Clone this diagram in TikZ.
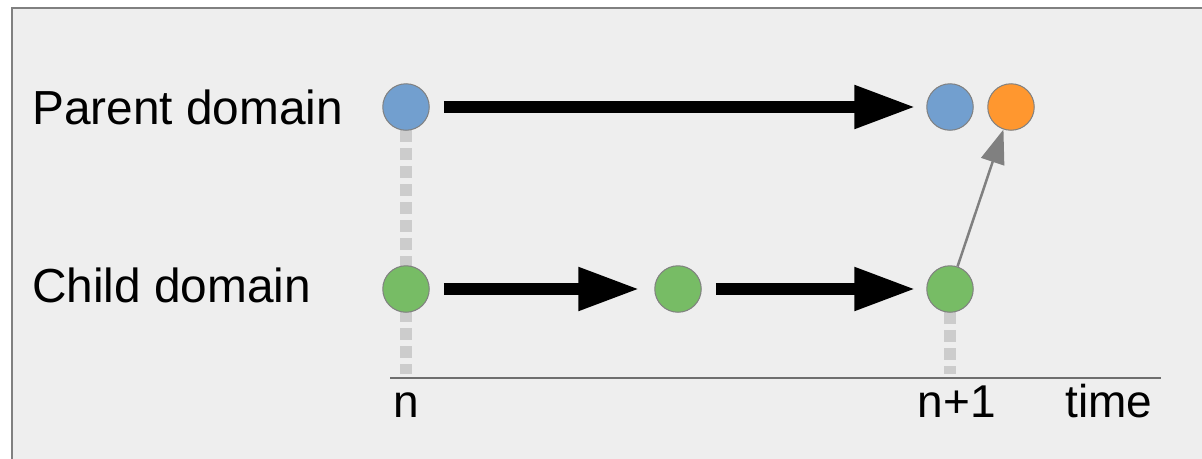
\documentclass[tikz,border=0pt]{standalone}
\usepackage{fontspec}
\setmainfont{Liberation Sans}
\usetikzlibrary{arrows.meta}
\definecolor{bg}{HTML}{EEEEEE}
\definecolor{frame}{HTML}{808080}
\definecolor{pblue}{HTML}{729FCF}
\definecolor{cgreen}{HTML}{77BC65}
\definecolor{porange}{HTML}{FF972F}
\definecolor{dotgray}{HTML}{CCCCCC}
\definecolor{axisgray}{HTML}{6E6E6E}
\tikzset{
  dot/.style={circle, minimum size=46.5pt, inner sep=0pt, draw=frame, line width=1pt},
  bigarrow/.style={line width=11.5pt, -{Triangle[length=61pt, width=41pt]}, shorten >=0pt},
  linkarrow/.style={draw=frame, line width=2.5pt, -{Triangle[length=34pt, width=24pt]}},
  guide/.style={draw=dotgray, line width=12pt, dash pattern=on 12pt off 6pt},
  lbl/.style={font=\fontsize{47.8pt}{52pt}\selectfont, inner sep=0pt, anchor=base west},
  tick/.style={font=\fontsize{46pt}{50pt}\selectfont, inner sep=0pt, anchor=base}
}
\begin{document}
\begin{tikzpicture}[x=1pt, y=-1pt]
\useasboundingbox (0,0) rectangle (1202,458);
\fill[white] (0,0) rectangle (1202,458);
\filldraw[fill=bg, draw=frame, line width=1.2pt] (12,8) rectangle (1210,470);
% guides
\draw[guide] (406,130) -- (406,374);
\draw[guide] (950,312) -- (950,374);
% axis
\coordinate (ax0) at (390,378);
\coordinate (ax1) at (1161,378);
\draw[axisgray, line width=1.5pt] (ax0) -- (ax1);
% labels
\node[lbl] (plabel) at (32,124) {Parent domain};
\node[lbl] (clabel) at (32,302) {Child domain};
\node[tick] (tn) at (406,417) {n};
\node[tick] (tn1) at (957,417) {n+1};
\node[tick] (ttime) at (1109,417) {time};
% dots
\node[dot, fill=pblue] (p0) at (406,107) {};
\node[dot, fill=pblue] (p1) at (950,107) {};
\node[dot, fill=porange] (p2) at (1011,107) {};
\node[dot, fill=cgreen] (c0) at (406,289) {};
\node[dot, fill=cgreen] (c1) at (678,289) {};
\node[dot, fill=cgreen] (c2) at (950,289) {};
% arrows
\draw[bigarrow] ([xshift=14pt]p0.east) -- ([xshift=-11pt]p1.west);
\draw[bigarrow] ([xshift=14pt]c0.east) -- ([xshift=-15pt]c1.west);
\draw[bigarrow] ([xshift=14pt]c1.east) -- ([xshift=-11pt]c2.west);
\draw[linkarrow] (c2) -- (p2);
\end{tikzpicture}
\end{document}
